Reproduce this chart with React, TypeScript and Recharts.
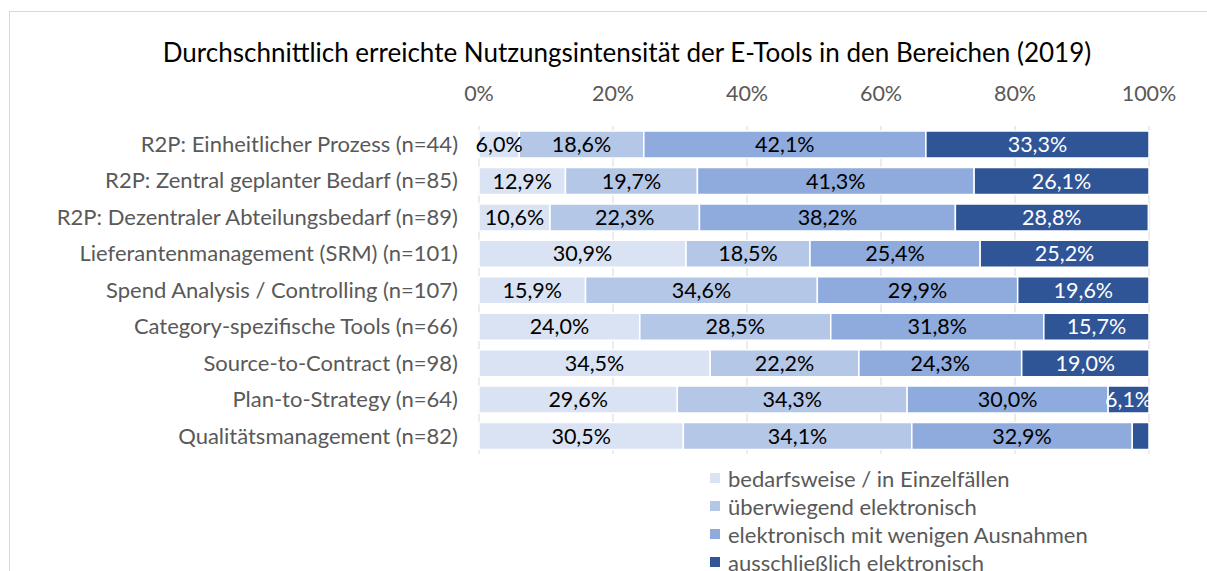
import { Bar, BarChart, CartesianGrid, LabelList, Legend, XAxis, YAxis } from 'recharts';

const categories = [
  'R2P: Einheitlicher Prozess (n=44)',
  'R2P: Zentral geplanter Bedarf (n=85)',
  'R2P: Dezentraler Abteilungsbedarf (n=89)',
  'Lieferantenmanagement (SRM) (n=101)',
  'Spend Analysis / Controlling (n=107)',
  'Category-spezifische Tools (n=66)',
  'Source-to-Contract (n=98)',
  'Plan-to-Strategy (n=64)',
  'Qualitätsmanagement (n=82)',
];

const bedarfsweise = [6.0, 12.9, 10.6, 30.9, 15.9, 24.0, 34.5, 29.6, 30.5];
const ueberwiegend = [18.6, 19.7, 22.3, 18.5, 34.6, 28.5, 22.2, 34.3, 34.1];
const wenigeAusnahmen = [42.1, 41.3, 38.2, 25.4, 29.9, 31.8, 24.3, 30.0, 32.9];
const ausschliesslich = [33.3, 26.1, 28.8, 25.2, 19.6, 15.7, 19.0, 6.1, 2.5];

const xTicks = [0, 20, 40, 60, 80, 100];

const series = [
  { key: 'a', name: 'bedarfsweise / in Einzelfällen', color: '#dae3f3', text: '#000000' },
  { key: 'b', name: 'überwiegend elektronisch', color: '#b4c7e7', text: '#000000' },
  { key: 'c', name: 'elektronisch mit wenigen Ausnahmen', color: '#8faadc', text: '#000000' },
  { key: 'd', name: 'ausschließlich elektronisch', color: '#2f5597', text: '#ffffff' },
];

const data = categories.map((name, i) => ({
  name,
  a: bedarfsweise[i],
  b: ueberwiegend[i],
  c: wenigeAusnahmen[i],
  d: ausschliesslich[i],
}));

const FONT = 'Lato, "Noto Sans", sans-serif';
const GREY = '#595959';

// small segments (Qualitätsmanagement, dark part) carry no label in the original
const fmt = (v: any) => (Number(v) < 3 ? '' : `${Number(v).toFixed(1).replace('.', ',')}%`);

function LegendList({ payload }: any) {
  const order = series.map((s) => s.name);
  const items = [...(payload || [])].sort((p: any, q: any) => order.indexOf(p.value) - order.indexOf(q.value));
  return (
    <ul style={{ listStyle: 'none', margin: 0, padding: 0, fontFamily: FONT, fontSize: 22, color: GREY }}>
      {items.map((p: any) => (
        <li key={p.value} style={{ display: 'flex', alignItems: 'center', height: 28 }}>
          <span style={{ width: 10, height: 10, background: p.color, marginRight: 8, flex: 'none' }} />
          {p.value}
        </li>
      ))}
    </ul>
  );
}

export default function App() {
  return (
    <div
      style={{
        position: 'fixed',
        left: 0,
        top: 0,
        width: 1207,
        height: 571,
        overflow: 'hidden',
        background: '#fff',
      }}
    >
      <div
        style={{
          position: 'absolute',
          left: 9,
          top: 11,
          width: 1260,
          height: 620,
          border: '1px solid #d9d9d9',
        }}
      />
      <div
        style={{
          position: 'absolute',
          left: 0,
          width: 1254,
          top: 35,
          textAlign: 'center',
          fontFamily: FONT,
          fontSize: 26,
          lineHeight: '34px',
          color: '#000',
        }}
      >
        Durchschnittlich erreichte Nutzungsintensität der E-Tools in den Bereichen (2019)
      </div>
      <div style={{ position: 'absolute', left: 0, top: 0 }}>
        <BarChart
          width={1207}
          height={571}
          data={data}
          layout="vertical"
          barSize={27}
          margin={{ top: 86, right: 58, bottom: 117, left: 9 }}
        >
          <CartesianGrid horizontal={false} stroke="#d9d9d9" />
          <XAxis
            type="number"
            orientation="top"
            domain={[0, 100]}
            ticks={xTicks}
            tickFormatter={(v) => `${v}%`}
            axisLine={false}
            tickLine={false}
            tickSize={0}
            tickMargin={25}
            height={40}
            tick={{ fill: GREY, fontSize: 21.5, fontFamily: FONT }}
          />
          <YAxis
            type="category"
            dataKey="name"
            width={470}
            axisLine={false}
            tickLine={false}
            tickSize={0}
            tickMargin={21}
            tick={{ fill: GREY, fontSize: 22, fontFamily: FONT }}
          />
          <Legend
            layout="vertical"
            align="center"
            verticalAlign="middle"
            content={<LegendList />}
            wrapperStyle={{ left: 710, top: 464, width: 490 }}
          />
          {series.map((s) => (
            <Bar
              key={s.key}
              dataKey={s.key}
              name={s.name}
              stackId="1"
              fill={s.color}
              stroke="#ffffff"
              strokeWidth={1.5}
              isAnimationActive={false}
            >
              <LabelList
                dataKey={s.key}
                position="center"
                formatter={fmt}
                fill={s.text}
                fontSize={21.5}
                fontFamily={FONT}
              />
            </Bar>
          ))}
        </BarChart>
      </div>
    </div>
  );
}
